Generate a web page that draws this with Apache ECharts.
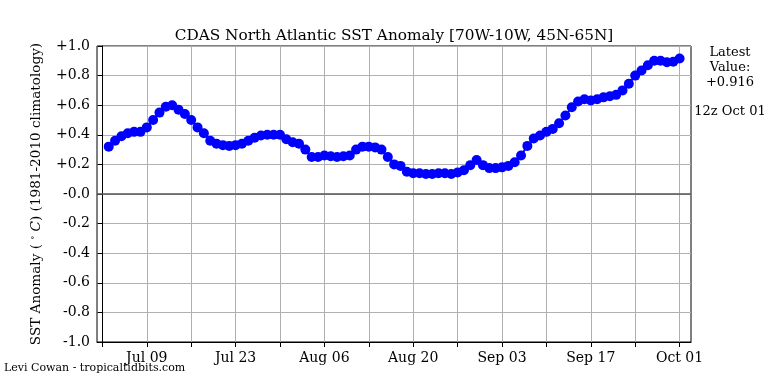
<!DOCTYPE html>
<html>
<head>
<meta charset="utf-8">
<script src="https://cdn.jsdelivr.net/npm/echarts@6/dist/echarts.min.js"></script>
<style>html,body{margin:0;padding:0;background:#fff}#c{width:768px;height:384px}</style>
</head>
<body>
<div id="c"></div>
<script>
// Day offsets are counted from Jul 02; first point is Jul 03 (offset 1), last is Oct 01 (offset 91)
var firstDayOffset = 1;
var anomalies = [
  0.32, 0.36, 0.39, 0.41, 0.42, 0.42, 0.45, 0.50, 0.55, 0.59,
  0.60, 0.57, 0.54, 0.50, 0.45, 0.41, 0.36, 0.34, 0.33, 0.325,
  0.33, 0.34, 0.36, 0.38, 0.395, 0.40, 0.40, 0.40, 0.37, 0.35,
  0.34, 0.30, 0.25, 0.25, 0.26, 0.255, 0.25, 0.255, 0.26, 0.30,
  0.32, 0.32, 0.315, 0.30, 0.25, 0.20, 0.19, 0.15, 0.14, 0.14,
  0.135, 0.135, 0.14, 0.14, 0.135, 0.145, 0.16, 0.195, 0.23, 0.195,
  0.175, 0.175, 0.18, 0.19, 0.215, 0.26, 0.325, 0.375, 0.395, 0.42,
  0.44, 0.478, 0.53, 0.586, 0.625, 0.64, 0.632, 0.64, 0.653, 0.66,
  0.67, 0.70, 0.745, 0.80, 0.835, 0.87, 0.90, 0.90, 0.89, 0.894,
  0.916
];
var tickDays = [0, 7, 14, 21, 28, 35, 42, 49, 56, 63, 70, 77, 84, 91];
var labelDays = [7, 21, 35, 49, 63, 77, 91];
var tickLabels = ['Jul 09', 'Jul 23', 'Aug 06', 'Aug 20', 'Sep 03', 'Sep 17', 'Oct 01'];
var latestValue = '+0.916';
var latestTime = '12z Oct 01';

var seriesData = anomalies.map(function (v, i) { return [firstDayOffset + i, v]; });
var FONT = 'DejaVu Serif';

var chart = echarts.init(document.getElementById('c'), null, {renderer: 'canvas'});
chart.setOption({
  animation: false,
  backgroundColor: '#fff',
  textStyle: {fontFamily: FONT},
  title: {
    text: 'CDAS North Atlantic SST Anomaly [70W-10W, 45N-65N]',
    left: 389, top: 24, textAlign: 'center',
    textStyle: {fontFamily: FONT, fontSize: 15.3, fontWeight: 'normal', color: '#000'}
  },
  grid: {left: 97, right: 77, top: 46, bottom: 42, show: true, borderColor: '#000', borderWidth: 1, backgroundColor: 'transparent'},
  xAxis: {
    type: 'value', min: -0.85, max: 92.8,
    axisLine: {show: true, onZero: false, lineStyle: {color: '#000', width: 1}},
    axisTick: {show: true, length: 5, inside: false, customValues: tickDays, lineStyle: {color: '#000'}},
    axisLabel: {
      customValues: labelDays, color: '#000', fontFamily: FONT, fontSize: 14, margin: 9,
      formatter: function (v) { var k = labelDays.indexOf(Math.round(v)); return k >= 0 ? tickLabels[k] : ''; }
    },
    splitLine: {show: true, lineStyle: {color: '#b0b0b0', width: 1}}
  },
  yAxis: {
    type: 'value', min: -1, max: 1, interval: 0.2,
    name: 'SST Anomaly ( {sup|∘} {it|C}) (1981-2010 climatology)',
    nameLocation: 'middle', nameGap: 54, nameRotate: 90,
    nameTextStyle: {
      fontFamily: FONT, fontSize: 13.6, color: '#000',
      rich: {sup: {fontSize: 8, verticalAlign: 'top', fontFamily: FONT, color: '#000', padding: [0,0,6,0]},
             it: {fontStyle: 'italic', fontFamily: FONT, fontSize: 13.6, color: '#000'}}
    },
    axisLine: {show: true, lineStyle: {color: '#000', width: 1}},
    axisTick: {show: true, length: 5, lineStyle: {color: '#000'}},
    axisLabel: {
      color: '#000', fontFamily: FONT, fontSize: 14, margin: 7,
      formatter: function (v) { return (v > 0.001 ? '+' : '-') + Math.abs(v).toFixed(1); }
    },
    splitLine: {show: true, lineStyle: {color: '#b0b0b0', width: 1}}
  },
  series: [{
    type: 'line',
    data: seriesData,
    symbol: 'circle', symbolSize: 10,
    itemStyle: {color: '#0000ff'},
    lineStyle: {color: '#0000ff', width: 2},
    z: 5,
    markLine: {
      silent: true, symbol: 'none', label: {show: false},
      lineStyle: {color: '#555', width: 1.5, type: 'solid'},
      data: [{yAxis: 0}],
      z: 4
    }
  }],
  graphic: [
    {type: 'text', x: 730, y: 45, style: {text: 'Latest\nValue:\n' + latestValue, fontFamily: FONT, fontSize: 13, lineHeight: 15, fill: '#000', align: 'center'}},
    {type: 'text', x: 730, y: 105, style: {text: latestTime, fontFamily: FONT, fontSize: 13, fill: '#000', align: 'center'}},
    {type: 'text', x: 4, y: 363, style: {text: 'Levi Cowan - tropicaltidbits.com', fontFamily: FONT, fontSize: 11, fill: '#000'}}
  ]
});
</script>
</body>
</html>
